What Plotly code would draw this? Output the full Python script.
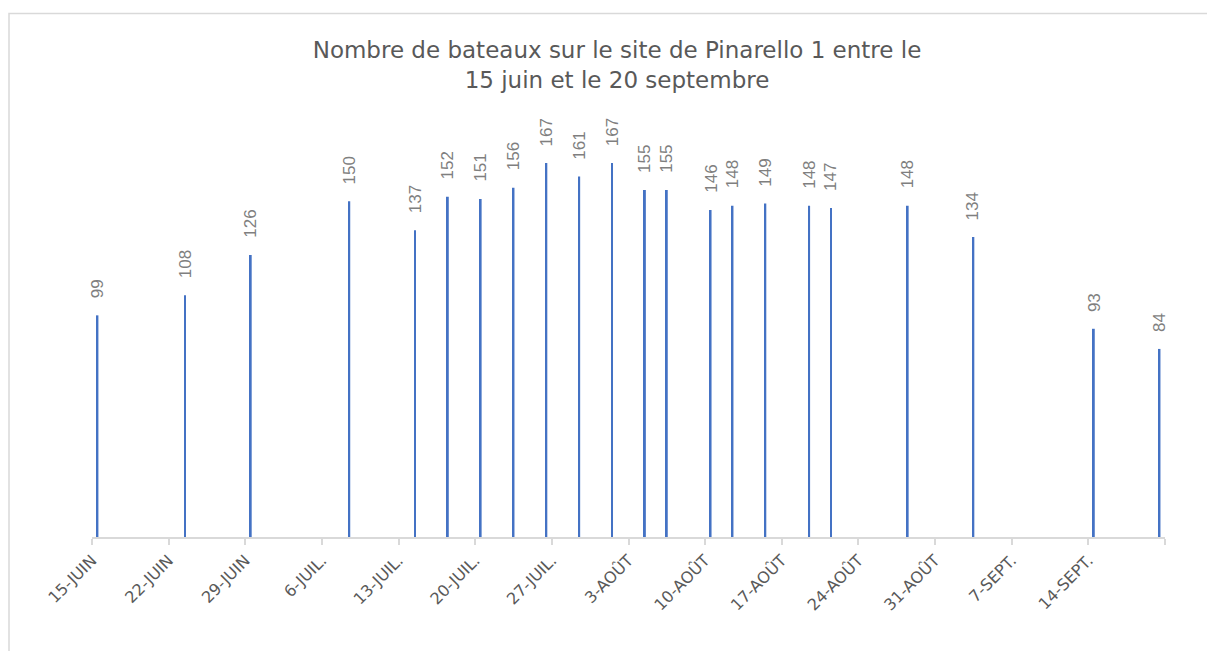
import plotly.graph_objects as go
import pandas as pd

# Data
dates = ["2021-06-15", "2021-06-23", "2021-06-29", "2021-07-08", "2021-07-14",
         "2021-07-17", "2021-07-20", "2021-07-23", "2021-07-26", "2021-07-29",
         "2021-08-01", "2021-08-04", "2021-08-06", "2021-08-10", "2021-08-12",
         "2021-08-15", "2021-08-19", "2021-08-21", "2021-08-28", "2021-09-03",
         "2021-09-14", "2021-09-20"]
boats = [99, 108, 126, 150, 137, 152, 151, 156, 167, 161, 167, 155, 155,
         146, 148, 149, 148, 147, 148, 134, 93, 84]

tick_dates = ["2021-06-15", "2021-06-22", "2021-06-29", "2021-07-06", "2021-07-13",
              "2021-07-20", "2021-07-27", "2021-08-03", "2021-08-10", "2021-08-17",
              "2021-08-24", "2021-08-31", "2021-09-07", "2021-09-14", "2021-09-21"]
tick_labels = ["15-JUIN", "22-JUIN", "29-JUIN", "6-JUIL.", "13-JUIL.", "20-JUIL.",
               "27-JUIL.", "3-AOÛT", "10-AOÛT", "17-AOÛT", "24-AOÛT", "31-AOÛT",
               "7-SEPT.", "14-SEPT.", ""]

title_text = "Nombre de bateaux sur le site de Pinarello 1 entre le<br>15 juin et le 20 septembre"

# page body adds an 8px offset, so the figure is 8px smaller and shifted
OFF = 8
W, H = 1215 - OFF, 651 - OFF
ML, MR, MT, MB = 92 - OFF, 50, 134 - OFF, 114
PW, PH = W - ML - MR, H - MT - MB

x_mid = pd.to_datetime(dates) + pd.Timedelta(hours=12)

fig = go.Figure()
fig.add_trace(go.Bar(
    x=x_mid, y=boats,
    width=0.17 * 86400000,
    marker=dict(color="#4472C4", line=dict(width=0)),
    hoverinfo="x+y",
))

for xm, v in zip(x_mid, boats):
    fig.add_annotation(
        x=xm, y=v, xref="x", yref="y", text=str(v), textangle=-90,
        showarrow=False, yanchor="bottom", xanchor="center", yshift=15,
        font=dict(family="Liberation Sans, Arial, sans-serif", size=17, color="#7F7F7F"),
    )

# outer chart border (cropped at right/bottom)
fig.add_shape(
    type="rect", xref="paper", yref="paper",
    x0=(9 - OFF - ML) / PW, x1=(W + 10 - ML) / PW,
    y0=(H - MB - (H + 10)) / PH, y1=(H - MB - (13.5 - OFF)) / PH,
    line=dict(color="#D9D9D9", width=1.5), fillcolor="rgba(0,0,0,0)", layer="below",
)

fig.update_layout(
    width=W, height=H,
    margin=dict(l=ML, r=MR, t=MT, b=MB),
    plot_bgcolor="white", paper_bgcolor="white",
    showlegend=False,
    title=dict(
        text=title_text, x=(617 - OFF) / W, xanchor="center", xref="container",
        y=1 - 50 / H, yanchor="top", yref="container",
        font=dict(family="DejaVu Sans, sans-serif", size=23, color="#595959"),
    ),
    xaxis=dict(
        type="date",
        range=["2021-06-15", "2021-09-21"],
        tickmode="array", tickvals=tick_dates, ticktext=tick_labels,
        tickangle=-45,
        ticks="outside", ticklen=6, tickcolor="#D9D9D9", tickwidth=1.5,
        showline=True, linecolor="#D9D9D9", linewidth=1.5,
        showgrid=False, zeroline=False,
        tickfont=dict(family="DejaVu Sans, sans-serif", size=16, color="#595959"),
    ),
    yaxis=dict(
        range=[0, 180], visible=False, showgrid=False, zeroline=False,
    ),
)

fig.write_html("out.html")
